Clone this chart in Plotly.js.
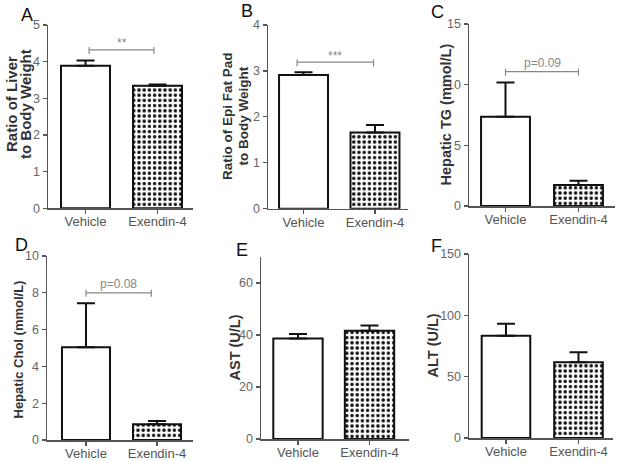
<!DOCTYPE html>
<html>
<head>
<meta charset="utf-8">
<script src="https://cdn.plot.ly/plotly-3.0.1.min.js"></script>
<style>html,body{margin:0;padding:0;background:#fff;}#chart{width:619px;height:461px;}</style>
</head>
<body>
<div id="chart"></div>
<script>
// ---- data ----
const groups = ['Vehicle', 'Exendin-4'];
const panelLetters = ['A', 'B', 'C', 'D', 'E', 'F'];

const liverRatio = [3.89, 3.34];
const liverRatioSem = [0.14, 0.04];
const epiRatio = [2.91, 1.66];
const epiRatioSem = [0.06, 0.16];
const hepaticTG = [7.36, 1.73];
const hepaticTGSem = [2.81, 0.36];
const hepaticChol = [5.04, 0.85];
const hepaticCholSem = [2.39, 0.18];
const ast = [38.7, 41.6];
const astSem = [1.7, 2.1];
const alt = [83.4, 61.7];
const altSem = [9.8, 8.2];

const yTitleLines = [
  ['Ratio of Liver', 'to Body Weight'],
  ['Ratio of Epi Fat Pad', 'to Body Weight'],
  ['Hepatic TG (mmol/L)'],
  ['Hepatic Chol (mmol/L)'],
  ['AST (U/L)'],
  ['ALT (U/L)']
];
const sigLabels = ['**', '***', 'p=0.09', 'p=0.08', null, null];
const sigLevels = [4.32, 3.19, 11.07, 8.0, null, null];
const sigTextLevels = [4.5, 3.33, 11.8, 8.5, null, null];

const values = [liverRatio, epiRatio, hepaticTG, hepaticChol, ast, alt];
const sems = [liverRatioSem, epiRatioSem, hepaticTGSem, hepaticCholSem, astSem, altSem];
const yRanges = [[0, 5], [0, 4], [0, 15], [0, 10], [0, 70], [0, 150]];
const yDtick = [1, 1, 5, 2, 20, 50];

// ---- layout geometry (pixels) ----
const W = 619, H = 461;
const geo = [
  {x0: 48, x1: 193, yb: 208.3, yt: 25, xr: [-0.521, 1.493], bw: 0.68, sx: [0.05, 0.95], lx: 27, ly: 15, tx: [11, 25], ty: 104, tf: 15},
  {x0: 268, x1: 408, yb: 208.7, yt: 25, xr: [-0.497, 1.462], bw: 0.685, sx: [-0.09, 0.98], lx: 247, ly: 11, tx: [228, 243.5], ty: 116, tf: 13.5},
  {x0: 469, x1: 615, yb: 206, yt: 24, xr: [-0.5, 1.5], bw: 0.67, sx: [0, 1.0], lx: 437, ly: 12, tx: [445], ty: 114.5, tf: 14.5},
  {x0: 47, x1: 193, yb: 440, yt: 256, xr: [-0.549, 1.507], bw: 0.676, sx: [0, 0.92], lx: 21.5, ly: 245, tx: [17.5], ty: 350, tf: 13},
  {x0: 261, x1: 409, yb: 439, yt: 257, xr: [-0.517, 1.552], bw: 0.69, sx: null, lx: 242, ly: 250, tx: [234], ty: 347.5, tf: 14.5},
  {x0: 469, x1: 613, yb: 438, yt: 254, xr: [-0.51, 1.476], bw: 0.67, sx: null, lx: 436, ly: 246, tx: [432.5], ty: 346, tf: 14.5}
];

const FONT = 'Liberation Sans, Arial, sans-serif';
const traces = [];
const layout = {
  width: W, height: H,
  margin: {l: 0, r: 0, t: 0, b: 0},
  paper_bgcolor: '#fff', plot_bgcolor: 'rgba(0,0,0,0)',
  showlegend: false, barmode: 'overlay',
  font: {family: FONT, color: '#555'},
  shapes: [], annotations: []
};

const axisColor = '#555';
geo.forEach((g, i) => {
  const n = i + 1;
  const xa = n === 1 ? 'x' : 'x' + n;
  const ya = n === 1 ? 'y' : 'y' + n;
  const xk = n === 1 ? 'xaxis' : 'xaxis' + n;
  const yk = n === 1 ? 'yaxis' : 'yaxis' + n;
  groups.forEach((grp, j) => {
    const marker = {color: '#ffffff', line: {color: '#111', width: 2}};
    if (j === 1) {
      marker.pattern = {shape: '.', fgcolor: '#111', bgcolor: '#ffffff', size: 5.2, solidity: 0.36, fillmode: 'replace'};
    }
    traces.push({
      type: 'bar', x: [grp], y: [values[i][j]], xaxis: xa, yaxis: ya,
      width: g.bw, marker: marker,
      error_y: {type: 'data', symmetric: false, array: [sems[i][j]], arrayminus: [0], color: '#111', thickness: 2, width: 9},
      hoverinfo: 'skip'
    });
  });
  layout[xk] = {
    domain: [g.x0 / W, g.x1 / W], anchor: ya, type: 'category',
    categoryorder: 'array', categoryarray: groups,
    range: g.xr, showgrid: false, zeroline: false,
    showline: true, linecolor: axisColor, linewidth: 1.5,
    ticks: 'outside', ticklen: 4, tickcolor: axisColor, tickwidth: 1.2,
    ticklabelstandoff: -3,
    tickfont: {size: 13, color: '#555', family: FONT},
    fixedrange: true
  };
  layout[yk] = {
    domain: [1 - g.yb / H, 1 - g.yt / H], anchor: xa,
    range: yRanges[i], dtick: yDtick[i], tick0: 0,
    showgrid: false, zeroline: false,
    showline: true, linecolor: axisColor, linewidth: 1.5,
    ticks: 'outside', ticklen: 4, tickcolor: axisColor, tickwidth: 1.2,
    tickfont: {size: 12.5, color: '#666', family: FONT},
    fixedrange: true
  };
  layout.annotations.push({
    text: panelLetters[i], xref: 'paper', yref: 'paper',
    x: g.lx / W, y: 1 - g.ly / H, xanchor: 'center', yanchor: 'middle',
    showarrow: false, font: {size: 18, color: '#111', family: FONT}
  });
  yTitleLines[i].forEach((line, k) => {
    layout.annotations.push({
      text: line, xref: 'paper', yref: 'paper', textangle: -90,
      x: g.tx[k] / W, y: 1 - g.ty / H, xanchor: 'center', yanchor: 'middle',
      showarrow: false, font: {size: g.tf, color: '#333', family: FONT, weight: 'bold'}
    });
  });
  if (sigLabels[i]) {
    const lvl = sigLevels[i];
    const tickDrop = (yRanges[i][1] - yRanges[i][0]) * 5 / (g.yb - g.yt);
    const lineStyle = {color: '#888', width: 1.2};
    layout.shapes.push({type: 'line', xref: xa, yref: ya, x0: g.sx[0], x1: g.sx[1], y0: lvl, y1: lvl, line: lineStyle});
    layout.shapes.push({type: 'line', xref: xa, yref: ya, x0: g.sx[0], x1: g.sx[0], y0: lvl + tickDrop * 0.6, y1: lvl - tickDrop * 0.8, line: lineStyle});
    layout.shapes.push({type: 'line', xref: xa, yref: ya, x0: g.sx[1], x1: g.sx[1], y0: lvl + tickDrop * 0.6, y1: lvl - tickDrop * 0.8, line: lineStyle});
    layout.annotations.push({
      text: sigLabels[i], xref: xa, yref: ya, x: (g.sx[0] + g.sx[1]) / 2, y: sigTextLevels[i],
      xanchor: 'center', yanchor: 'middle', showarrow: false,
      font: {size: 12, color: '#888', family: FONT}
    });
  }
});

Plotly.newPlot('chart', traces, layout, {displayModeBar: false, staticPlot: true});
</script>
</body>
</html>
